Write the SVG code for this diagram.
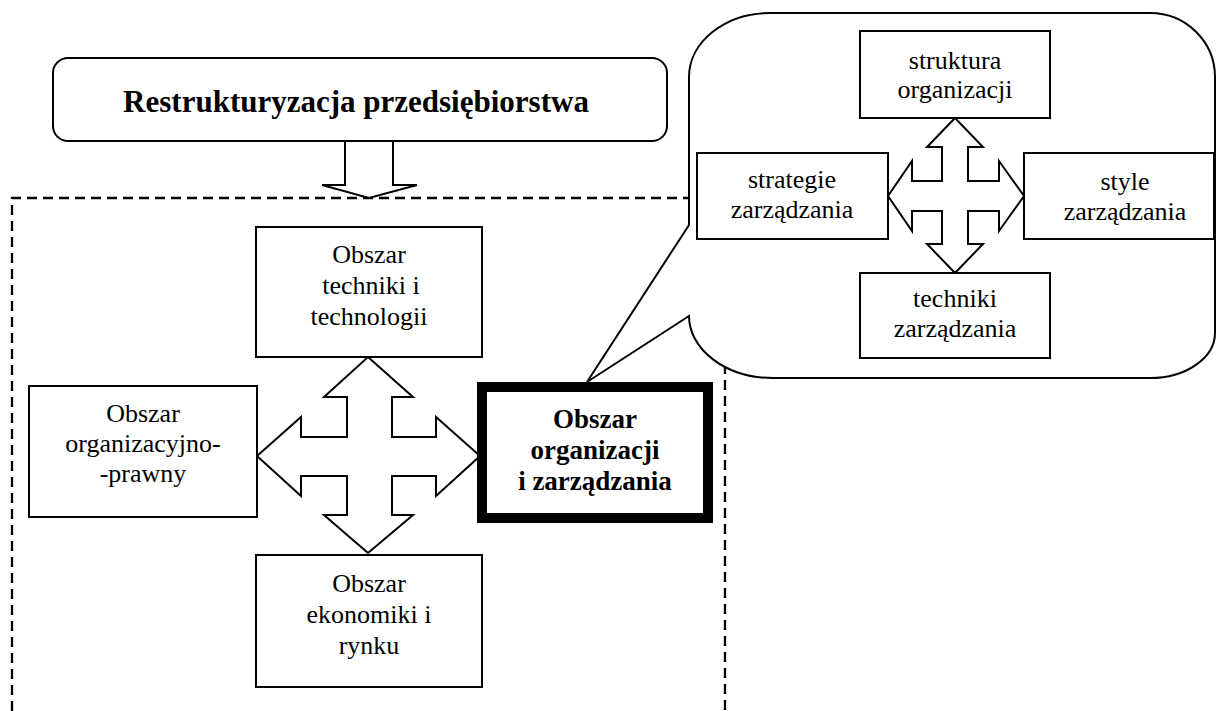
<svg xmlns="http://www.w3.org/2000/svg" width="1216" height="711" viewBox="0 0 1216 711">
<style>
.box{fill:#fff;stroke:#000;stroke-width:2}
.arr{fill:#fff;stroke:#000;stroke-width:2;stroke-linejoin:miter}
.t{font-family:"Liberation Serif","Times New Roman",serif;font-size:26px;fill:#000;text-anchor:middle}
.tb{font-family:"Liberation Serif","Times New Roman",serif;font-size:27px;font-weight:bold;fill:#000;text-anchor:middle}
</style>
<rect width="1216" height="711" fill="#fff"/>
<g id="frame">
<path d="M12,711 V198 H725 V711" fill="none" stroke="#000" stroke-width="2.3" stroke-dasharray="10,6"/>
</g>
<g id="callout">
<path class="box" d="M770,13 H1150 A65,64 0 0 1 1215,77 V333 A65,45 0 0 1 1150,378 H773 A84,62 0 0 1 689,316 L587,382 L689,225 V77 A81,64 0 0 1 770,13 Z"/>
</g>
<g id="title">
<rect class="box" x="53" y="58" width="614" height="83" rx="15" ry="15"/>
<text class="tb" x="356" y="112" style="font-size:31px">Restrukturyzacja przedsiębiorstwa</text>
</g>
<g id="connectors">
<path class="arr" d="M345,141 V185 H322 L369,198 L417,185 H393 V141 Z"/>
<path class="arr" d="M368,357 L413,397 H392 V437 H436 V417 L480,456 L436,496 V476 H392 V515 H413 L368,553 L324,515 H347 V476 H301 V496 L257,456 L301,417 V437 H347 V397 H324 Z"/>
<path class="arr" d="M955,118 L983,147 H968 V181 H999 V161 L1024,196 L999,231 V211 H968 V244 H983 L955,273 L927,244 H942 V211 H912 V231 L888,196 L912,161 V181 H942 V147 H927 Z"/>
</g>
<g id="techniki">
<rect class="box" x="256" y="227" width="226" height="130"/>
<text class="t" x="369" y="263">Obszar</text>
<text class="t" x="371" y="294">techniki i</text>
<text class="t" x="369" y="325">technologii</text>
</g>
<g id="organizacyjno">
<rect class="box" x="29" y="386" width="228" height="131"/>
<text class="t" x="143" y="422">Obszar</text>
<text class="t" x="143" y="452">organizacyjno-</text>
<text class="t" x="143" y="482">-prawny</text>
</g>
<g id="ekonomiki">
<rect class="box" x="256" y="555" width="226" height="132"/>
<text class="t" x="369" y="592">Obszar</text>
<text class="t" x="369" y="623">ekonomiki i</text>
<text class="t" x="369" y="654">rynku</text>
</g>
<g id="zarzadzanie">
<rect x="482" y="387" width="226" height="131" fill="#fff" stroke="#000" stroke-width="10"/>
<text class="tb" x="595" y="428">Obszar</text>
<text class="tb" x="595" y="459">organizacji</text>
<text class="tb" x="595" y="490">i zarządzania</text>
</g>
<g id="struktura">
<rect class="box" x="860" y="31" width="190" height="87"/>
<text class="t" x="955" y="69">struktura</text>
<text class="t" x="955" y="98">organizacji</text>
</g>
<g id="strategie">
<rect class="box" x="697" y="153" width="191" height="86"/>
<text class="t" x="792" y="188">strategie</text>
<text class="t" x="792" y="218">zarządzania</text>
</g>
<g id="style">
<rect class="box" x="1024" y="153" width="190" height="86"/>
<text class="t" x="1125" y="190">style</text>
<text class="t" x="1125" y="220">zarządzania</text>
</g>
<g id="techniki-z">
<rect class="box" x="860" y="273" width="190" height="85"/>
<text class="t" x="955" y="307">techniki</text>
<text class="t" x="955" y="337">zarządzania</text>
</g>
</svg>
